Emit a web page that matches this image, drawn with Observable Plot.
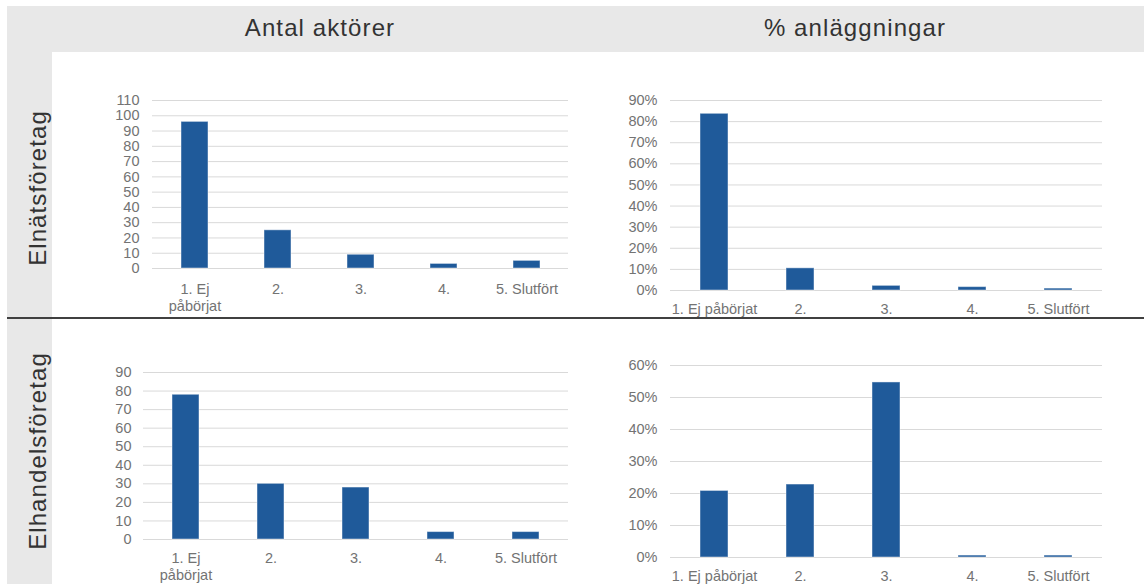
<!DOCTYPE html>
<html>
<head>
<meta charset="utf-8">
<script src="https://cdn.jsdelivr.net/npm/d3@7"></script>
<script src="https://cdn.jsdelivr.net/npm/@observablehq/plot@0.6"></script>
<style>
  body { margin: 0; background: #fff; font-family: "Liberation Sans", Arial, sans-serif; }
  #root { position: relative; width: 1144px; height: 584px; overflow: hidden; background: #fff; }
  .band { position: absolute; background: #e8e8e8; }
  .coltitle { position: absolute; top: 14px; font-size: 24px; letter-spacing: 1.1px; color: #333; text-align: center; width: 300px; }
  .rowtitle { position: absolute; font-size: 24px; letter-spacing: 1.1px; color: #333; white-space: nowrap;
              transform: translate(-50%, -50%) rotate(-90deg); }
  .divider { position: absolute; left: 7px; top: 317px; width: 1137px; height: 2px; background: #404040; }
  .chart { position: absolute; overflow: visible; }
</style>
</head>
<body>
<div id="root">
  <div class="band" style="left:7px;top:6px;width:1137px;height:46px"></div>
  <div class="band" style="left:7px;top:6px;width:45px;height:578px"></div>
  <div class="divider"></div>
</div>
<script>
// ---- data ----
const colTitles = ["Antal aktörer", "% anläggningar"];
const rowTitles = ["Elnätsföretag", "Elhandelsföretag"];
const stages = ["1. Ej påbörjat", "2.", "3.", "4.", "5. Slutfört"];
const stageLabelsWrapped = ["1. Ej\npåbörjat", "2.", "3.", "4.", "5. Slutfört"];

const elnatCount = [96, 25, 9, 3, 5];
const elnatPct = [0.837, 0.105, 0.022, 0.016, 0.009];
const elhandelCount = [78, 30, 28, 4, 4];
const elhandelPct = [0.208, 0.228, 0.547, 0.006, 0.006];

const countTicksTop = [0, 10, 20, 30, 40, 50, 60, 70, 80, 90, 100, 110];
const pctTicksTop = [0, 0.1, 0.2, 0.3, 0.4, 0.5, 0.6, 0.7, 0.8, 0.9];
const countTicksBottom = [0, 10, 20, 30, 40, 50, 60, 70, 80, 90];
const pctTicksBottom = [0, 0.1, 0.2, 0.3, 0.4, 0.5, 0.6];

// ---- layout ----
const root = document.getElementById("root");
function addDiv(cls, text, style) {
  const d = document.createElement("div");
  d.className = cls; d.textContent = text;
  Object.assign(d.style, style);
  root.appendChild(d);
}
addDiv("coltitle", colTitles[0], {left: (320 - 150) + "px"});
addDiv("coltitle", colTitles[1], {left: (855 - 150) + "px"});
addDiv("rowtitle", rowTitles[0], {left: "38px", top: "188px"});
addDiv("rowtitle", rowTitles[1], {left: "38px", top: "451px"});

const BLUE = "#1f5a9a";
const GRID = "#d9d9d9";
const TICK = "#737373";

function makeChart({values, ticks, pct, labels, left, top, width, height, mL, mR, mT, mB, yPad, xPad}) {
  const data = stages.map((s, i) => ({stage: s, value: values[i]}));
  const labelMap = new Map(stages.map((s, i) => [s, labels[i]]));
  const chart = Plot.plot({
    width, height,
    marginLeft: mL, marginRight: mR, marginTop: mT, marginBottom: mB,
    style: {fontFamily: "'Liberation Sans', Arial, sans-serif", fontSize: "14.5px", color: TICK, background: "transparent", overflow: "visible"},
    x: {domain: stages, paddingInner: 0.68, paddingOuter: 0.34, label: null},
    y: {domain: [ticks[0], ticks[ticks.length - 1]], label: null},
    marks: [
      Plot.ruleY(ticks, {stroke: GRID, strokeWidth: 1}),
      Plot.barY(data, {x: "stage", y: "value", fill: BLUE, stroke: "#ffffff", strokeOpacity: 0.45, strokeWidth: 1}),
      Plot.axisY({ticks, tickSize: 0, tickPadding: yPad, label: null,
        tickFormat: pct ? (d => Math.round(d * 100) + "%") : (d => d), fill: TICK}),
      Plot.axisX({tickSize: 0, tickPadding: xPad, label: null,
        tickFormat: d => labelMap.get(d), fill: TICK, lineHeight: 1.2})
    ]
  });
  chart.classList.add("chart");
  chart.style.left = left + "px";
  chart.style.top = top + "px";
  chart.style.position = "absolute";
  chart.style.overflow = "visible";
  root.appendChild(chart);
}

makeChart({values: elnatCount, ticks: countTicksTop, pct: false, labels: stageLabelsWrapped,
  left: 90, top: 90, width: 490, height: 226, mL: 62, mR: 12, mT: 10, mB: 48, yPad: 13, xPad: 13});
makeChart({values: elnatPct, ticks: pctTicksTop, pct: true, labels: stages,
  left: 590, top: 90, width: 540, height: 226, mL: 80, mR: 28, mT: 10, mB: 26, yPad: 13, xPad: 11});
makeChart({values: elhandelCount, ticks: countTicksBottom, pct: false, labels: stageLabelsWrapped,
  left: 80, top: 360, width: 500, height: 224, mL: 63, mR: 12, mT: 12, mB: 45, yPad: 12, xPad: 11});
makeChart({values: elhandelPct, ticks: pctTicksBottom, pct: true, labels: stages,
  left: 590, top: 355, width: 540, height: 229, mL: 80, mR: 28, mT: 10, mB: 27, yPad: 13, xPad: 11});
</script>
</body>
</html>
